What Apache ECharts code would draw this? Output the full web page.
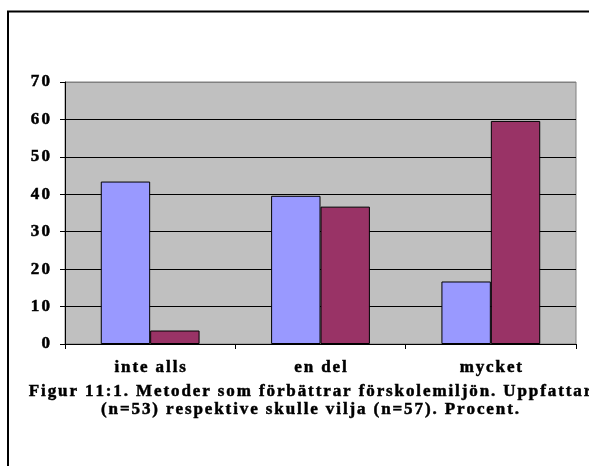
<!DOCTYPE html>
<html>
<head>
<meta charset="utf-8">
<script src="https://cdn.jsdelivr.net/npm/echarts@6/dist/echarts.min.js"></script>
<style>
  html, body { margin: 0; padding: 0; background: #fff; }
  #chart { width: 589px; height: 466px; }
</style>
</head>
<body>
<div id="chart"></div>
<script>
const categories = ["inte alls", "en del", "mycket"];
const uppfattar = [43.4, 39.6, 16.7];
const skulleVilja = [3.6, 36.7, 59.6];
const yTicks = [0, 70, 10]; // min, max, interval
const captionLines = [
  "Figur 11:1. Metoder som förbättrar förskolemiljön. Uppfattar",
  "(n=53) respektive skulle vilja (n=57). Procent.",
];

const FONT = "Liberation Serif";
const FSIZE = 17;

// the picture has wide letter spacing, so each letter is its own rich token
function spaced(s) {
  return s.split("").map((c) => "{c|" + c + "}").join("");
}
// for axis labels (echarts label style)
function richStyle(pad) {
  return {
    c: {
      fontFamily: FONT,
      fontWeight: 700,
      fontSize: FSIZE,
      color: "#000",
      // slightly heavier strokes, like the scanned text
      textBorderColor: "#000",
      textBorderWidth: 0.5,
      padding: [0, pad],
    },
  };
}
// for graphic text (zrender style names)
function richGraphic(pad) {
  return {
    c: {
      fontFamily: FONT,
      fontWeight: 700,
      fontSize: FSIZE,
      fill: "#000",
      stroke: "#000",
      lineWidth: 0.5,
      padding: [0, pad],
    },
  };
}

const chart = echarts.init(document.getElementById("chart"), null, {
  renderer: "canvas",
});

chart.setOption({
  animation: false,
  backgroundColor: "#fff",
  textStyle: { fontFamily: FONT, fontWeight: 700, fontSize: FSIZE },
  grid: {
    left: 65,
    top: 82,
    right: 13,
    bottom: 122,
    show: true,
    backgroundColor: "#C0C0C0",
    borderColor: "#808080",
    borderWidth: 1,
    containLabel: false,
    outerBoundsMode: "none",
  },
  xAxis: {
    type: "category",
    data: categories,
    axisLine: { show: true, lineStyle: { color: "#000", width: 1 } },
    axisTick: { show: true, length: 5, lineStyle: { color: "#000" } },
    axisLabel: {
      interval: 0,
      margin: 15,
      color: "#000",
      fontFamily: FONT,
      fontWeight: 700,
      fontSize: FSIZE,
      formatter: (v) => spaced(v),
      rich: richStyle(0.95),
    },
  },
  yAxis: {
    type: "value",
    min: yTicks[0],
    max: yTicks[1],
    interval: yTicks[2],
    axisLine: { show: true, lineStyle: { color: "#000", width: 1 } },
    axisTick: { show: true, length: 5, lineStyle: { color: "#000" } },
    axisLabel: {
      margin: 14,
      color: "#000",
      fontFamily: FONT,
      fontWeight: 700,
      fontSize: FSIZE,
      formatter: (v) => spaced(String(v)),
      rich: richStyle(1.1),
    },
    splitLine: {
      show: true,
      lineStyle: {
        color: ["#000", "#000", "#000", "#000", "#000", "#000", "#000", "#808080"],
        width: 1,
      },
    },
  },
  series: [
    {
      name: "Uppfattar",
      type: "bar",
      data: uppfattar,
      barGap: "0%",
      barCategoryGap: "42%",
      itemStyle: { color: "#9999FF", borderColor: "#000", borderWidth: 1 },
    },
    {
      name: "Skulle vilja",
      type: "bar",
      data: skulleVilja,
      barGap: "0%",
      barCategoryGap: "42%",
      itemStyle: { color: "#993366", borderColor: "#000", borderWidth: 1 },
    },
  ],
  graphic: [
    {
      type: "rect",
      shape: { x: 8, y: 11.5, width: 640, height: 520 },
      style: { fill: "none", stroke: "#000", lineWidth: 2 },
      silent: true,
    },
    {
      type: "text",
      x: 310,
      y: 392,
      style: {
        text: spaced(captionLines[0]),
        fontFamily: FONT,
        fontWeight: 700,
        fontSize: FSIZE,
        fill: "#000",
        rich: richGraphic(0.95),
        align: "center",
        verticalAlign: "middle",
      },
    },
    {
      type: "text",
      x: 310,
      y: 410,
      style: {
        text: spaced(captionLines[1]),
        fontFamily: FONT,
        fontWeight: 700,
        fontSize: FSIZE,
        fill: "#000",
        rich: richGraphic(0.95),
        align: "center",
        verticalAlign: "middle",
      },
    },
  ],
});
</script>
</body>
</html>
